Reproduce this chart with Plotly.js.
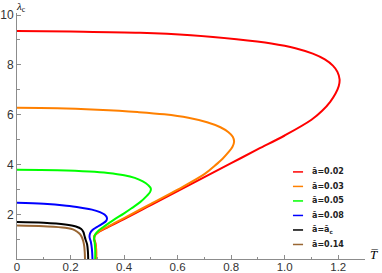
<!DOCTYPE html>
<html>
<head>
<meta charset="utf-8">
<script src="https://cdn.plot.ly/plotly-3.0.1.min.js"></script>
<style>html,body{margin:0;padding:0;background:#fff;}#chart{width:382px;height:273px;}</style>
</head>
<body>
<div id="chart"></div>
<script>
// Series names and colours
const seriesNames = ["ā=0.02", "ā=0.03", "ā=0.05", "ā=0.08", "ā=ā<sub>c</sub>", "ā=0.14"];
const seriesColors = ["#ff0000", "#ff8000", "#00ff00", "#0000ff", "#000000", "#996633"];

// a = 0.02
const T_002 = [0, 0.2, 0.46, 0.65, 0.82, 0.95, 1.04, 1.105, 1.15, 1.18, 1.197, 1.205, 1.202, 1.19, 1.17, 1.14, 1.1, 1.0, 0.9, 0.8, 0.7, 0.6, 0.5, 0.4, 0.34, 0.305, 0.29, 0.289, 0.293, 0.295, 0.295];
const L_002 = [9.36, 9.34, 9.29, 9.19, 9.03, 8.86, 8.67, 8.45, 8.22, 7.97, 7.72, 7.42, 7.15, 6.85, 6.52, 6.16, 5.8, 5.17, 4.62, 4.06, 3.5, 2.94, 2.38, 1.82, 1.5, 1.3, 1.15, 1.0, 0.85, 0.6, 0.2];
// a = 0.03
const T_003 = [0, 0.15, 0.3, 0.45, 0.55, 0.64, 0.71, 0.76, 0.79, 0.806, 0.811, 0.805, 0.79, 0.768, 0.74, 0.7, 0.6, 0.5, 0.4, 0.34, 0.305, 0.29, 0.288, 0.292, 0.296, 0.296];
const L_003 = [6.28, 6.26, 6.2, 6.11, 6.02, 5.88, 5.7, 5.5, 5.3, 5.12, 4.93, 4.72, 4.5, 4.24, 3.97, 3.62, 3.0, 2.43, 1.86, 1.52, 1.31, 1.16, 1.0, 0.85, 0.6, 0.2];
// a = 0.05
const T_005 = [0, 0.15, 0.27, 0.34, 0.4, 0.44, 0.47, 0.49, 0.5, 0.497, 0.485, 0.46, 0.43, 0.4, 0.36, 0.33, 0.305, 0.292, 0.288, 0.29, 0.292, 0.292];
const L_005 = [3.8, 3.78, 3.73, 3.67, 3.58, 3.47, 3.33, 3.18, 3.04, 2.9, 2.75, 2.5, 2.27, 2.05, 1.78, 1.56, 1.36, 1.2, 1.05, 0.9, 0.6, 0.2];
// a = 0.08
const T_008 = [0, 0.1, 0.185, 0.24, 0.28, 0.31, 0.327, 0.336, 0.333, 0.318, 0.298, 0.282, 0.273, 0.271, 0.276, 0.28, 0.282];
const L_008 = [2.47, 2.43, 2.35, 2.27, 2.2, 2.1, 2.0, 1.87, 1.75, 1.63, 1.5, 1.38, 1.25, 1.1, 0.9, 0.6, 0.2];
// a = a_c
const T_ac = [0, 0.1, 0.18, 0.22, 0.24, 0.248, 0.252, 0.256, 0.262, 0.265, 0.266];
const L_ac = [1.7, 1.67, 1.6, 1.52, 1.42, 1.3, 1.15, 1.0, 0.8, 0.5, 0.2];
// a = 0.14
const T_014 = [0, 0.1, 0.18, 0.215, 0.232, 0.241, 0.247, 0.251, 0.253, 0.254];
const L_014 = [1.56, 1.53, 1.47, 1.38, 1.25, 1.12, 0.95, 0.75, 0.5, 0.2];

const xTickVals = [0, 0.2, 0.4, 0.6, 0.8, 1.0, 1.2];
const xTickText = ["0", "0.2", "0.4", "0.6", "0.8", "1.0", "1.2"];
const yTickVals = [2, 4, 6, 8, 10];
const yTickText = ["2", "4", "6", "8", "10"];

const xs = [T_002, T_003, T_005, T_008, T_ac, T_014];
const ys = [L_002, L_003, L_005, L_008, L_ac, L_014];

const traces = xs.map((x, i) => ({
  x: x, y: ys[i], type: "scatter", mode: "lines",
  name: seriesNames[i], showlegend: false,
  line: {color: seriesColors[i], width: 2, shape: "spline", smoothing: 1},
  cliponaxis: true
}));

// Hand-drawn legend (short line samples as in the reference)
const shapes = [];
const annotations = [];
const legX0 = 0.793, legX1 = 0.822, legTextX = 0.842, legY0 = 0.354, legDy = 0.059;
seriesNames.forEach((nm, i) => {
  const yy = legY0 - i * legDy;
  shapes.push({type: "line", xref: "paper", yref: "paper", x0: legX0, x1: legX1, y0: yy, y1: yy,
    line: {color: seriesColors[i], width: 1.5}});
  annotations.push({xref: "paper", yref: "paper", x: legTextX, y: yy, xanchor: "left", yanchor: "middle",
    text: "<b>" + nm + "</b>", showarrow: false,
    font: {family: "DejaVu Sans, sans-serif", size: 8, color: "#222"}});
});

annotations.push(
  {xref: "paper", yref: "paper", x: 1, y: 0, xanchor: "left", yanchor: "middle", xshift: 3, yshift: 5,
   text: "<i>T\u0305</i>", showarrow: false, font: {family: "Liberation Serif, serif", size: 13, color: "#000"}},
  {xref: "paper", yref: "paper", x: 0, y: 1, xanchor: "center", yanchor: "bottom", xshift: 4, yshift: -3,
   text: "<i>λ</i><sub>c</sub>", showarrow: false, font: {family: "Liberation Serif, serif", size: 11, color: "#000"}}
);

const axisCommon = {
  showgrid: false, zeroline: false, showline: true, linecolor: "#8c8c8c", linewidth: 1,
  ticks: "inside", ticklen: 4, tickcolor: "#8c8c8c", tickwidth: 1,
  tickfont: {family: "Liberation Sans, Arial, sans-serif", size: 12, color: "#333"},
  mirror: false, automargin: false
};

const layout = {
  width: 382, height: 273,
  margin: {l: 17, r: 17, t: 13, b: 14, pad: 0},
  paper_bgcolor: "#fff", plot_bgcolor: "#fff",
  showlegend: false,
  xaxis: Object.assign({}, axisCommon, {range: [0, 1.3], tickvals: xTickVals, ticktext: xTickText,
    tickfont: {family: "Liberation Sans, Arial, sans-serif", size: 11.5, color: "#333"},
    ticklabelstandoff: -3,
    minor: {ticks: "inside", ticklen: 2.5, tickcolor: "#8c8c8c", dtick: 0.1, showgrid: false}}),
  yaxis: Object.assign({}, axisCommon, {range: [0.22, 10.08], tickvals: yTickVals, ticktext: yTickText,
    minor: {ticks: "inside", ticklen: 2.5, tickcolor: "#8c8c8c", dtick: 1, showgrid: false}}),
  shapes: shapes,
  annotations: annotations
};

Plotly.newPlot("chart", traces, layout, {staticPlot: true, displayModeBar: false});
</script>
</body>
</html>
